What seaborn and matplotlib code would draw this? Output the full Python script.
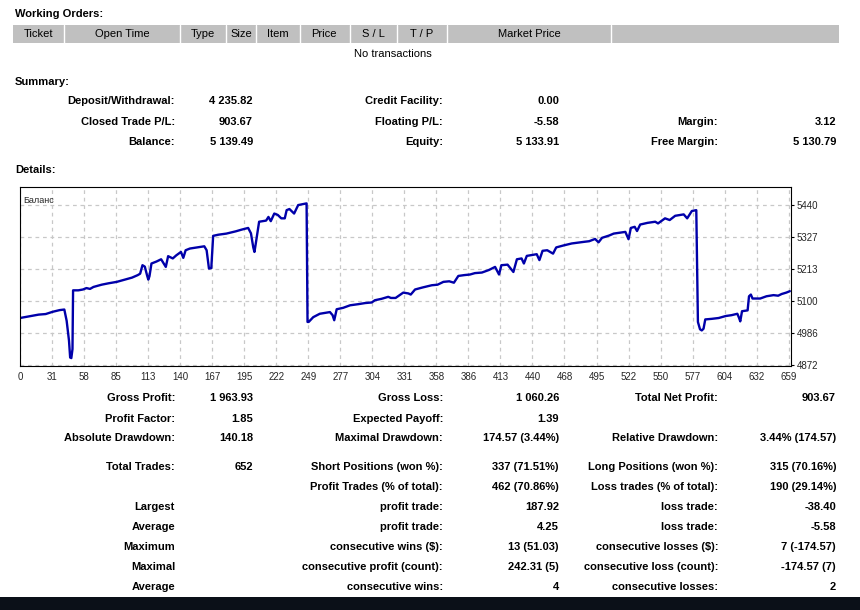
import pandas as pd
import seaborn as sns
import matplotlib.pyplot as plt
from matplotlib.patches import Rectangle

# balance curve (trade number, balance)
trade_no = [0, 8, 16, 22, 28, 34, 38, 40, 42, 43, 44, 45, 45.5,
            50, 54, 57, 60, 63, 70, 76, 83, 90, 96, 101, 103,
            105, 107, 109, 110, 111, 112.7, 117, 121, 125, 127, 131, 134, 138, 140, 142, 145.6,
            152, 158, 160, 162, 164, 165.6, 170, 177, 185, 190, 195.6, 198, 200, 201, 202, 203.4,
            205, 211, 213, 215, 218, 221, 224, 227, 228.6, 231, 235, 238.5, 242, 245.7, 246.5,
            247.5, 251.4, 257, 265.7, 268, 269.4, 271.5, 277, 283, 290, 296, 301.5, 304.3, 310,
            315.7, 318, 322, 328.6, 333, 335, 338.7, 345, 353, 358, 363, 368, 372, 375.8, 381,
            385.8, 390, 396, 402, 407.3, 410.7, 412.7, 418, 423, 426, 430, 432, 434.5, 443, 445.3,
            448, 452, 457, 459.7, 466, 473, 480, 484, 488, 493, 496, 499, 505, 509, 514, 519,
            521.7, 523.7, 527, 529, 531.7, 538, 544.6, 547, 553, 557, 561.7, 569, 572, 576, 579.8,
            580.5, 581.2, 583, 584.5, 586, 587.5, 593, 599, 605, 610, 615, 616.5, 617.5, 619, 623.8,
            625, 626.6, 628, 634.6, 640, 646, 650, 653, 657, 660]
balance = [5040, 5046, 5052, 5054, 5062, 5068, 5070, 5030, 4960, 4900, 4898, 4930, 5138,
           5138, 5141, 5146, 5143, 5150, 5158, 5163, 5168, 5176, 5183, 5192, 5197,
           5227, 5222, 5190, 5176, 5188, 5233, 5240, 5248, 5221, 5259, 5251, 5262, 5274, 5253, 5280, 5286,
           5290, 5294, 5280, 5215, 5217, 5331, 5335, 5339, 5347, 5353, 5359, 5340, 5290, 5274, 5300, 5339,
           5381, 5385, 5398, 5383, 5410, 5405, 5393, 5393, 5422, 5426, 5410, 5440, 5443, 5446, 5026,
           5026, 5043, 5055, 5061, 5050, 5032, 5071, 5076, 5085, 5089, 5093, 5095, 5103, 5108,
           5115, 5111, 5111, 5130, 5127, 5123, 5141, 5148, 5156, 5158, 5168, 5170, 5165, 5189, 5192,
           5194, 5199, 5201, 5210, 5221, 5194, 5227, 5229, 5203, 5248, 5251, 5233, 5260, 5266, 5245,
           5278, 5280, 5268, 5290, 5297, 5304, 5308, 5310, 5312, 5320, 5308, 5324, 5332, 5339, 5342, 5345,
           5319, 5359, 5363, 5348, 5371, 5377, 5381, 5375, 5393, 5387, 5402, 5407, 5393, 5419, 5422,
           5221, 5026, 5000, 4996, 5002, 5035, 5037, 5040, 5047, 5050, 5055, 5040, 5028, 5064, 5067,
           5117, 5123, 5109, 5109, 5117, 5121, 5119, 5125, 5130, 5135]

x_labels = ['0', '31', '58', '85', '113', '140', '167', '195', '222', '249', '277', '304', '331',
            '358', '386', '413', '440', '468', '495', '522', '550', '577', '604', '632', '659']
y_ticks = [4872, 4986, 5100, 5213, 5327, 5440]

header_cols = ['Ticket', 'Open Time', 'Type', 'Size', 'Item', 'Price', 'S / L', 'T / P', 'Market Price']

summary_rows = [
    ['Deposit/Withdrawal:', '4 235.82', 'Credit Facility:', '0.00', '', ''],
    ['Closed Trade P/L:', '903.67', 'Floating P/L:', '-5.58', 'Margin:', '3.12'],
    ['Balance:', '5 139.49', 'Equity:', '5 133.91', 'Free Margin:', '5 130.79'],
]
details_rows = [
    ['Gross Profit:', '1 963.93', 'Gross Loss:', '1 060.26', 'Total Net Profit:', '903.67'],
    ['Profit Factor:', '1.85', 'Expected Payoff:', '1.39', '', ''],
    ['Absolute Drawdown:', '140.18', 'Maximal Drawdown:', '174.57 (3.44%)', 'Relative Drawdown:', '3.44% (174.57)'],
    ['Total Trades:', '652', 'Short Positions (won %):', '337 (71.51%)', 'Long Positions (won %):', '315 (70.16%)'],
    ['', '', 'Profit Trades (% of total):', '462 (70.86%)', 'Loss trades (% of total):', '190 (29.14%)'],
    ['Largest', '', 'profit trade:', '187.92', 'loss trade:', '-38.40'],
    ['Average', '', 'profit trade:', '4.25', 'loss trade:', '-5.58'],
    ['Maximum', '', 'consecutive wins ($):', '13 (51.03)', 'consecutive losses ($):', '7 (-174.57)'],
    ['Maximal', '', 'consecutive profit (count):', '242.31 (5)', 'consecutive loss (count):', '-174.57 (7)'],
    ['Average', '', 'consecutive wins:', '4', 'consecutive losses:', '2'],
]

sns.set_style('white')
plt.rcParams['font.family'] = ['Liberation Sans', 'DejaVu Sans']

W, H = 860, 610
fig = plt.figure(figsize=(8.6, 6.1), dpi=100)


def px(x, y):
    return x / W, 1 - y / H


def put(x, y, s, ha='left', bold=True, size=8):
    fx, fy = px(x, y)
    fig.text(fx, fy, s, ha=ha, va='center', fontsize=size,
             fontweight='bold' if bold else 'normal', color='black')


# working orders header
put(15, 14, 'Working Orders:')
fig.patches.append(Rectangle(px(13, 43), 826 / W, 18 / H, transform=fig.transFigure,
                             facecolor='#c0c0c0', edgecolor='none'))
for sx in [64, 180, 226, 256, 300, 350, 397, 447, 611]:
    fig.lines.append(plt.Line2D([sx / W, sx / W], [1 - 25 / H, 1 - 43 / H],
                                transform=fig.transFigure, color='white', lw=1))
col_cx = [38, 122, 203, 241, 278, 324, 373, 422, 529]
for cx, name in zip(col_cx, header_cols):
    put(cx, 34, name, ha='center', bold=False)
put(393, 54, 'No transactions', ha='center', bold=False)

# summary block
put(15, 82, 'Summary:')
col_right = [175, 253, 443, 559, 718, 836]
for row, y in zip(summary_rows, [101, 122, 142]):
    for cx, s in zip(col_right, row):
        if s:
            put(cx, y, s, ha='right')

put(15, 170, 'Details:')

# balance chart
ax = fig.add_axes([20 / W, 1 - 366 / H, 771 / W, 179 / H])
df = pd.DataFrame({'trade': trade_no, 'balance': balance})
sns.lineplot(data=df, x='trade', y='balance', ax=ax, color='#0000aa', linewidth=1.7,
             sort=False, estimator=None)
step = 659 / 24
ax.set_xlim(0, 661)
ax.set_ylim(4870, 5504)
ax.set_xticks([i * step for i in range(25)])
ax.set_xticklabels(x_labels)
ax.set_yticks(y_ticks)
ax.set_yticklabels([str(v) for v in y_ticks])
ax.yaxis.tick_right()
ax.tick_params(axis='both', labelsize=7, length=2, width=0.8, color='black', pad=2)
ax.grid(True, color='#c8c8c8', linestyle=(0, (3, 3)), linewidth=0.9)
for sp in ax.spines.values():
    sp.set_color('black')
    sp.set_linewidth(0.8)
ax.set_xlabel('')
ax.set_ylabel('')
ax.text(0.004, 0.95, 'Баланс', transform=ax.transAxes, fontsize=6.5, va='top', ha='left')

# details block
detail_y = [398, 419, 438, 467, 487, 507, 527, 547, 567, 587]
for row, y in zip(details_rows, detail_y):
    for cx, s in zip(col_right, row):
        if s:
            put(cx, y, s, ha='right')

# dark strip at the bottom of the screenshot
fig.patches.append(Rectangle((0, 0), 1, 13 / H, transform=fig.transFigure,
                             facecolor='#0b1018', edgecolor='none'))

fig.savefig('out.png', dpi=100)
